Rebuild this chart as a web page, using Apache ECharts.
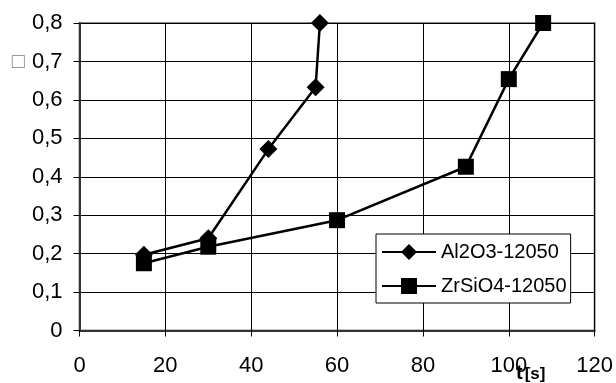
<!DOCTYPE html>
<html>
<head>
<meta charset="utf-8">
<script src="https://cdn.jsdelivr.net/npm/echarts@6/dist/echarts.min.js"></script>
<style>
  html, body { margin: 0; padding: 0; background: #fff; }
  #chart { width: 616px; height: 383px; }
</style>
</head>
<body>
<div id="chart"></div>
<script>
// data
const alTime = [15, 30, 44, 55, 56];
const alValue = [0.197, 0.24, 0.472, 0.633, 0.80];
const zrTime = [15, 30, 60, 90, 100, 108];
const zrValue = [0.175, 0.218, 0.287, 0.426, 0.654, 0.80];
const seriesNames = ['Al2O3-12050', 'ZrSiO4-12050'];

const pairs = (xs, ys) => xs.map((x, i) => [x, ys[i]]);
const font = 'Liberation Sans, Arial, sans-serif';

const chart = echarts.init(document.getElementById('chart'));

const option = {
  animation: false,
  textStyle: { fontFamily: font, color: '#000' },
  grid: {
    left: 79.5, right: 21, top: 23, bottom: 52.5,
    show: true, borderColor: '#888', borderWidth: 2, backgroundColor: '#fff'
  },
  xAxis: {
    type: 'value', min: 0, max: 120, interval: 20,
    axisLine: { show: true, lineStyle: { color: '#333', width: 2 } },
    axisTick: { show: true, inside: false, length: 6, lineStyle: { color: '#000' } },
    axisLabel: { margin: 24, fontSize: 22, color: '#000', fontFamily: font },
    splitLine: { show: true, lineStyle: { color: '#000', width: 1 } }
  },
  yAxis: {
    type: 'value', min: 0, max: 0.8, interval: 0.1,
    axisLine: { show: true, lineStyle: { color: '#333', width: 2 } },
    axisTick: { show: true, inside: false, length: 6, lineStyle: { color: '#000' } },
    axisLabel: {
      margin: 17, fontSize: 22, color: '#000', fontFamily: font,
      formatter: v => v === 0 ? '0' : v.toFixed(1).replace('.', ',')
    },
    splitLine: { show: true, lineStyle: { color: '#000', width: 1 } }
  },
  legend: {
    orient: 'vertical',
    left: 376, top: 234,
    width: 192,
    padding: [8, 4, 7, 5],
    itemGap: 14,
    itemWidth: 54, itemHeight: 20,
    backgroundColor: '#fff',
    borderColor: '#000', borderWidth: 1, borderRadius: 0,
    textStyle: { fontSize: 20, color: '#000', fontFamily: font },
    data: seriesNames
  },
  graphic: [
    {
      type: 'text', left: 10, top: 53,
      style: { text: '\u25a1', fontSize: 17, fill: '#999', fontFamily: 'DejaVu Sans' }
    },
    {
      type: 'text', left: 516, top: 363, z: 100,
      style: {
        text: '{t|t}{s|[s]}',
        rich: {
          t: { fontSize: 20, lineHeight: 20, fontWeight: 'bold', fill: '#000', fontFamily: font },
          s: { fontSize: 17, lineHeight: 20, fontWeight: 'bold', fill: '#000', fontFamily: font, padding: [3, 0, 0, 2] }
        }
      }
    }
  ],
  series: [
    {
      name: seriesNames[0],
      type: 'line',
      data: pairs(alTime, alValue),
      symbol: 'diamond', symbolSize: 18,
      lineStyle: { color: '#000', width: 2.5 },
      itemStyle: { color: '#000' }
    },
    {
      name: seriesNames[1],
      type: 'line',
      data: pairs(zrTime, zrValue),
      symbol: 'rect', symbolSize: 16,
      lineStyle: { color: '#000', width: 2.5 },
      itemStyle: { color: '#000' }
    }
  ]
};

chart.setOption(option);
</script>
</body>
</html>
